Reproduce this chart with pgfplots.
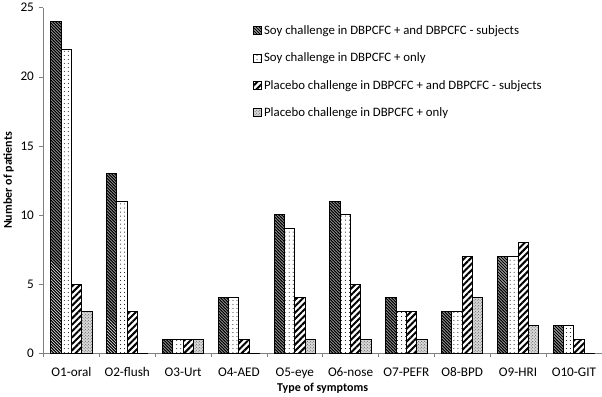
\documentclass[border=0pt]{standalone}
\usepackage{pgfplots}
\pgfplotsset{compat=1.18}
\usepackage{fontspec}
\setmainfont{Carlito}
\usetikzlibrary{patterns,patterns.meta}
\begin{document}
\begin{tikzpicture}[x=1bp,y=1bp]
\begin{axis}[
  scale only axis,
  width=556bp, height=344bp,
  ybar=0pt, bar width=10.3bp,
  xmin=-0.5, xmax=9.5, ymin=0, ymax=25,
  ytick={0,5,...,25},
  xtick={0,...,9},
  xticklabels={O1-oral,O2-flush,O3-Urt,O4-AED,O5-eye,O6-nose,O7-PEFR,O8-BPD,O9-HRI,O10-GIT},
  minor xtick={-0.5,0.5,...,9.5},
  major x tick style={draw=none},
  minor x tick style={draw=gray, thin},
  x tick label style={yshift=-7bp},
  y tick label style={xshift=-2bp},
  tick align=outside,
  minor tick length=4bp,
  major tick length=4bp,
  y tick style={draw=gray, thin},
  axis x line*=bottom, axis y line*=left,
  axis line style={draw=gray, thin, -},
  /pgf/number format/assume math mode=true,
  tick label style={font=\fontsize{13.2}{15}\selectfont},
  xlabel={\textbf{Type of symptoms}},
  ylabel={\textbf{Number of patients}},
  label style={font=\fontsize{12}{14}\selectfont},
  ylabel style={yshift=0bp},
  xlabel style={yshift=2bp},
  legend style={at={(0.375,0.955)}, anchor=north west, draw=none, fill=none,
    font=\fontsize{12.8}{14}\selectfont, row sep=13bp, inner sep=0pt},
  legend cell align=left,
  legend image code/.code={\draw[#1] (0bp,-4bp) rectangle (8bp,4bp);},
  every axis plot/.append style={draw=black, line width=1pt},
]
\addplot[fill=black, postaction={pattern=north west lines, pattern color=white}]
  coordinates {(0,24)(1,13)(2,1)(3,4)(4,10)(5,11)(6,4)(7,3)(8,7)(9,2)};
\addplot[fill=white, postaction={pattern={Dots[distance=4bp, radius=0.5bp]}, pattern color=black}]
  coordinates {(0,22)(1,11)(2,1)(3,4)(4,9)(5,10)(6,3)(7,3)(8,7)(9,2)};
\addplot[fill=white, postaction={pattern={Lines[angle=45, distance=4.5bp, line width=2bp]}, pattern color=black}]
  coordinates {(0,5)(1,3)(2,1)(3,1)(4,4)(5,5)(6,3)(7,7)(8,8)(9,1)};
\addplot[fill=black!15, postaction={pattern=crosshatch dots, pattern color=black!70}]
  coordinates {(0,3)(1,0)(2,1)(3,0)(4,1)(5,1)(6,1)(7,4)(8,2)(9,0)};
\legend{Soy challenge in DBPCFC + and DBPCFC - subjects,
        Soy challenge in DBPCFC + only,
        Placebo challenge in DBPCFC + and DBPCFC - subjects,
        Placebo challenge in DBPCFC + only}
\end{axis}
\end{tikzpicture}
\end{document}
